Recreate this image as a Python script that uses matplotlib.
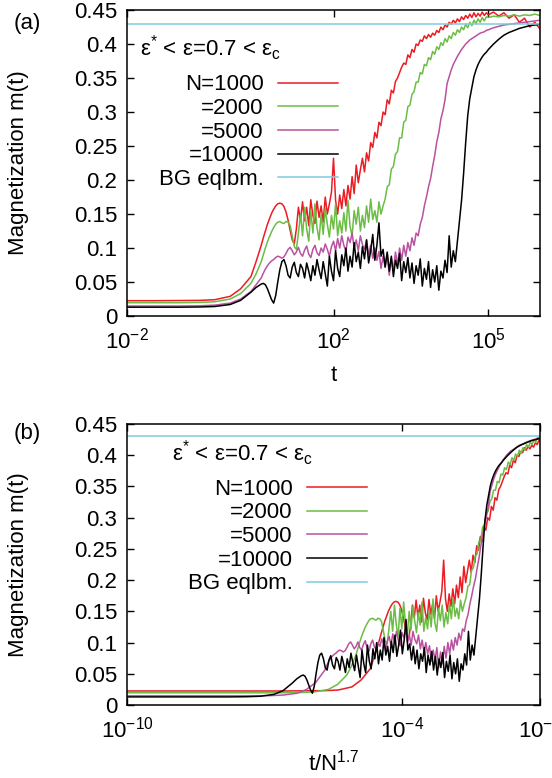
import numpy as np
import matplotlib
matplotlib.use("Agg")
import matplotlib.pyplot as plt
from matplotlib.ticker import NullLocator, FuncFormatter

plt.rcParams["font.family"] = ["Liberation Sans", "DejaVu Sans"]
plt.rcParams["mathtext.fontset"] = "custom"
plt.rcParams["mathtext.rm"] = "Liberation Sans"
plt.rcParams["mathtext.it"] = "Liberation Sans:italic"
plt.rcParams["font.size"] = 16

# sampling times (log10 t): sparse early, dense through the noisy plateau, coarser at saturation
LOG_T = np.concatenate([
    [-5.0, -3.0, -1.5, -1.0, -0.6, -0.3, 0.0, 0.2, 0.4, 0.5],
    np.arange(60, 500, 4) / 100,
    np.arange(50, 69) / 10,
])

SIZES = [1000, 2000, 5000, 10000]
LABELS = ["N=1000", "=2000", "=5000", "=10000"]
COLORS = ["#ec1c24", "#6cbd45", "#b9529f", "#000000"]
M_EQ = 0.43  # BG equilibrium magnetization

M_N1000 = [
    0.0225, 0.0225, 0.0225, 0.0228, 0.023, 0.024, 0.029, 0.040, 0.058, 0.080,
    0.104, 0.115, 0.125, 0.135, 0.143, 0.151, 0.157, 0.162, 0.165, 0.166,
    0.165, 0.161, 0.153, 0.141, 0.126, 0.112, 0.106, 0.128, 0.160, 0.140,
    0.168, 0.140, 0.160, 0.133, 0.171, 0.148, 0.136, 0.169, 0.145, 0.162,
    0.138, 0.175, 0.150, 0.165, 0.182, 0.232, 0.170, 0.150, 0.178, 0.158,
    0.186, 0.162, 0.192, 0.172, 0.205, 0.180, 0.222, 0.196, 0.215, 0.232,
    0.212, 0.240, 0.228, 0.255, 0.248, 0.270, 0.262, 0.285, 0.280, 0.300,
    0.296, 0.318, 0.312, 0.332, 0.328, 0.345, 0.350, 0.358, 0.366, 0.372,
    0.370, 0.384, 0.380, 0.392, 0.388, 0.400, 0.398, 0.406, 0.404, 0.412,
    0.408, 0.414, 0.410, 0.416, 0.413, 0.420, 0.417, 0.425, 0.421, 0.428,
    0.425, 0.432, 0.429, 0.435, 0.431, 0.437, 0.433, 0.440, 0.436, 0.442,
    0.438, 0.444, 0.439, 0.446, 0.440, 0.445, 0.441, 0.447, 0.442, 0.446,
    0.443, 0.447, 0.441, 0.446, 0.438, 0.443, 0.432, 0.438, 0.425, 0.432,
    0.422, 0.428, 0.421, 0.427, 0.422, 0.428, 0.423, 0.427, 0.424,
]

M_N2000 = [
    0.0196, 0.0196, 0.0196, 0.0196, 0.020, 0.021, 0.025, 0.033, 0.048, 0.062,
    0.080, 0.090, 0.100, 0.109, 0.117, 0.124, 0.130, 0.135, 0.138, 0.139,
    0.137, 0.136, 0.139, 0.138, 0.133, 0.118, 0.102, 0.098, 0.122, 0.150,
    0.118, 0.160, 0.128, 0.110, 0.155, 0.122, 0.165, 0.130, 0.112, 0.150,
    0.120, 0.158, 0.135, 0.116, 0.148, 0.128, 0.165, 0.118, 0.140, 0.122,
    0.152, 0.125, 0.170, 0.132, 0.118, 0.155, 0.135, 0.160, 0.125, 0.148,
    0.130, 0.162, 0.138, 0.172, 0.142, 0.155, 0.138, 0.168, 0.150, 0.162,
    0.172, 0.190, 0.193, 0.216, 0.220, 0.238, 0.242, 0.262, 0.262, 0.285,
    0.288, 0.308, 0.310, 0.326, 0.330, 0.344, 0.344, 0.358, 0.356, 0.370,
    0.368, 0.380, 0.377, 0.389, 0.385, 0.396, 0.392, 0.402, 0.398, 0.408,
    0.403, 0.412, 0.408, 0.417, 0.413, 0.421, 0.417, 0.425, 0.421, 0.429,
    0.424, 0.432, 0.427, 0.435, 0.430, 0.437, 0.432, 0.439, 0.434, 0.440,
    0.439, 0.441, 0.440, 0.442, 0.441, 0.443, 0.441, 0.443, 0.442, 0.444,
    0.442, 0.443, 0.441, 0.443, 0.442, 0.443, 0.441, 0.443, 0.442,
]

M_N5000 = [
    0.0147, 0.0147, 0.0147, 0.0147, 0.015, 0.016, 0.019, 0.025, 0.036, 0.046,
    0.056, 0.063, 0.069, 0.074, 0.078, 0.081, 0.083, 0.086, 0.088, 0.087,
    0.085, 0.087, 0.092, 0.098, 0.101, 0.096, 0.090, 0.094, 0.101, 0.092,
    0.088, 0.097, 0.103, 0.091, 0.086, 0.098, 0.104, 0.093, 0.089, 0.100,
    0.094, 0.106, 0.098, 0.088, 0.102, 0.110, 0.096, 0.114, 0.100, 0.118,
    0.104, 0.095, 0.116, 0.108, 0.122, 0.100, 0.112, 0.096, 0.118, 0.105,
    0.098, 0.112, 0.090, 0.104, 0.085, 0.100, 0.082, 0.095, 0.070, 0.088,
    0.072, 0.092, 0.060, 0.085, 0.066, 0.094, 0.075, 0.100, 0.082, 0.104,
    0.088, 0.108, 0.096, 0.115, 0.104, 0.122, 0.118, 0.135, 0.145, 0.162,
    0.175, 0.190, 0.202, 0.220, 0.236, 0.256, 0.270, 0.290, 0.302, 0.318,
    0.342, 0.352, 0.362, 0.370, 0.376, 0.382, 0.387, 0.392, 0.396, 0.400,
    0.403, 0.406, 0.408, 0.410, 0.412, 0.414, 0.416, 0.417, 0.418, 0.420,
    0.421, 0.424, 0.426, 0.428, 0.429, 0.430, 0.431, 0.432, 0.433, 0.434,
    0.435, 0.436, 0.436, 0.437, 0.437, 0.438, 0.438, 0.438, 0.439,
]

M_N10000 = [
    0.013, 0.013, 0.013, 0.013, 0.0133, 0.014, 0.017, 0.023, 0.035, 0.042,
    0.047, 0.048, 0.046, 0.040, 0.032, 0.024, 0.019, 0.030, 0.050, 0.068,
    0.080, 0.083, 0.074, 0.060, 0.056, 0.072, 0.079, 0.064, 0.058, 0.076,
    0.070, 0.056, 0.078, 0.066, 0.052, 0.074, 0.060, 0.083, 0.068, 0.055,
    0.080, 0.062, 0.044, 0.088, 0.066, 0.052, 0.096, 0.070, 0.058, 0.090,
    0.074, 0.100, 0.066, 0.088, 0.072, 0.108, 0.080, 0.094, 0.070, 0.102,
    0.084, 0.112, 0.078, 0.096, 0.120, 0.082, 0.104, 0.137, 0.088, 0.098,
    0.072, 0.094, 0.066, 0.088, 0.058, 0.082, 0.070, 0.092, 0.052, 0.080,
    0.064, 0.086, 0.056, 0.078, 0.048, 0.074, 0.060, 0.084, 0.044, 0.070,
    0.054, 0.080, 0.042, 0.068, 0.050, 0.074, 0.038, 0.066, 0.056, 0.082,
    0.064, 0.118, 0.072, 0.096, 0.080, 0.110, 0.140, 0.170, 0.210, 0.255,
    0.295, 0.320, 0.336, 0.352, 0.362, 0.370, 0.376, 0.381, 0.385, 0.388,
    0.392, 0.400, 0.407, 0.413, 0.417, 0.420, 0.423, 0.425, 0.427, 0.428,
    0.429, 0.431, 0.432, 0.433, 0.434, 0.434, 0.435, 0.435, 0.436,
]

SERIES = [M_N1000, M_N2000, M_N5000, M_N10000]
EXPONENT = 1.7
ANNOT = r"ε$^{*}$ < ε=0.7 < ε$_{\mathregular{c}}$"


def style_axes(ax, label_y):
    ax.set_ylim(0, 0.45)
    ax.set_yticks(np.arange(0, 0.451, 0.05))
    ax.yaxis.set_major_formatter(FuncFormatter(lambda v, _: f"{round(v, 2):g}"))
    ax.xaxis.set_minor_locator(NullLocator())
    ax.tick_params(direction="in", length=5, width=1, top=True, right=True,
                   labelsize=16)
    ax.tick_params(axis="y", pad=7)
    ax.tick_params(axis="x", pad=8)
    for sp in ax.spines.values():
        sp.set_linewidth(1.1)
    ax.set_ylabel("Magnetization m(t)", fontsize=16)
    ax.yaxis.set_label_coords(-0.237, 0.5)
    ax.xaxis.set_label_coords(0.5, label_y)


def draw_panel(ax, scaled):
    t = 10 ** LOG_T
    for n, m, c, lab in zip(SIZES, SERIES, COLORS, LABELS):
        x = t / n ** EXPONENT if scaled else t
        ax.plot(x, m, color=c, lw=1.1, label=lab)
    ax.axhline(M_EQ, color="#7ecbdc", lw=1.1, label="BG eqlbm.")


def add_legend(ax, anchor):
    ax.legend(loc="upper right", bbox_to_anchor=anchor, frameon=False,
              markerfirst=False, handlelength=2.7, handletextpad=0.65,
              labelspacing=0.12, borderpad=0, borderaxespad=0, fontsize=16)


fig = plt.figure(figsize=(5.52, 7.78), dpi=100)
ax_a = fig.add_axes([0.2301, 0.5938, 0.7482, 0.3933])
ax_b = fig.add_axes([0.2301, 0.0938, 0.7482, 0.3612])

# (a) raw time
draw_panel(ax_a, scaled=False)
ax_a.set_xscale("log")
ax_a.set_xlim(1e-2, 1e6)
ax_a.set_xticks([1e-2, 1e2, 1e5])
ax_a.set_xlabel("t", fontsize=16)
style_axes(ax_a, -0.16)
ax_a.text(0.031, 0.876, ANNOT, transform=ax_a.transAxes, va="center", fontsize=16)
add_legend(ax_a, (0.511, 0.79))

# (b) time rescaled by N^1.7
draw_panel(ax_b, scaled=True)
ax_b.set_xscale("log")
ax_b.set_xlim(1e-10, 1e-1)
ax_b.set_xticks([1e-10, 1e-4, 1e-1])
ax_b.set_xlabel(r"t/N$^{1.7}$", fontsize=16)
style_axes(ax_b, -0.16)
ax_b.text(0.109, 0.897, ANNOT, transform=ax_b.transAxes, va="center", fontsize=16)
add_legend(ax_b, (0.581, 0.805))

fig.text(0.05, 1 - 23 / 778, "(a)", ha="center", va="center", fontsize=16)
fig.text(0.05, 1 - 434 / 778, "(b)", ha="center", va="center", fontsize=16)

fig.savefig("out.png", dpi=100)
